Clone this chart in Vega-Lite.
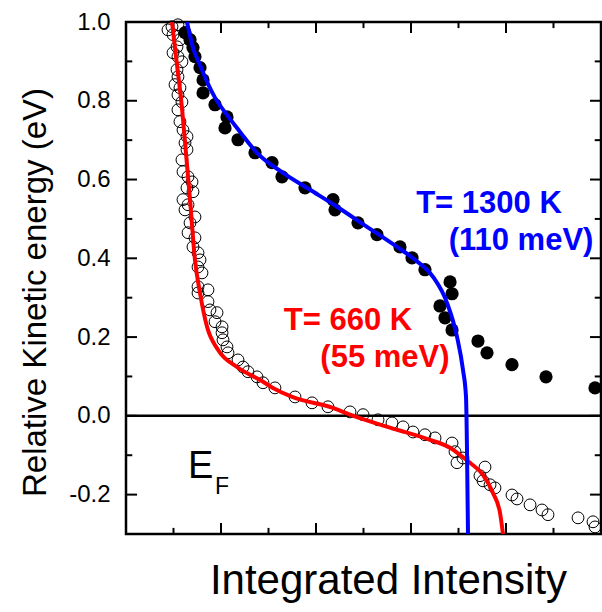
{
  "$schema": "https://vega.github.io/schema/vega-lite/v6.json",
  "width": 475,
  "height": 512,
  "autosize": {"type": "none"},
  "padding": {"left": 126, "top": 22, "right": 1, "bottom": 78},
  "config": {
    "view": {"stroke": "black", "strokeWidth": 2.5},
    "font": "Liberation Sans",
    "axis": {"domain": false, "ticks": false, "grid": false, "labelFont": "Liberation Sans", "titleFont": "Liberation Sans", "titleFontWeight": "normal", "labelColor": "black", "titleColor": "black"}
  },
  "datasets": {
    "zero": [{"y": 0}],
    "ymaj": [{"v": -0.2}, {"v": 0}, {"v": 0.2}, {"v": 0.4}, {"v": 0.6}, {"v": 0.8}],
    "ymin": [{"v": -0.1}, {"v": 0.1}, {"v": 0.3}, {"v": 0.5}, {"v": 0.7}, {"v": 0.9}],
    "xmaj": [{"v": 1}, {"v": 2}, {"v": 3}, {"v": 4}],
    "xmin": [{"v": 0.5}, {"v": 1.5}, {"v": 2.5}, {"v": 3.5}, {"v": 4.5}],
    "open": [
      {"x": 0.442, "y": 0.980}, {"x": 0.484, "y": 0.988}, {"x": 0.547, "y": 0.993}, {"x": 0.495, "y": 0.968}, {"x": 0.568, "y": 0.955},
      {"x": 0.537, "y": 0.937}, {"x": 0.495, "y": 0.922}, {"x": 0.547, "y": 0.912}, {"x": 0.589, "y": 0.899}, {"x": 0.537, "y": 0.879},
      {"x": 0.547, "y": 0.861}, {"x": 0.516, "y": 0.841}, {"x": 0.568, "y": 0.833}, {"x": 0.547, "y": 0.815}, {"x": 0.589, "y": 0.797},
      {"x": 0.547, "y": 0.777}, {"x": 0.568, "y": 0.747}, {"x": 0.600, "y": 0.726}, {"x": 0.642, "y": 0.709}, {"x": 0.621, "y": 0.693},
      {"x": 0.642, "y": 0.676}, {"x": 0.589, "y": 0.650}, {"x": 0.600, "y": 0.620}, {"x": 0.653, "y": 0.607}, {"x": 0.695, "y": 0.594},
      {"x": 0.642, "y": 0.579}, {"x": 0.705, "y": 0.569}, {"x": 0.600, "y": 0.549}, {"x": 0.653, "y": 0.536}, {"x": 0.621, "y": 0.523},
      {"x": 0.726, "y": 0.505}, {"x": 0.674, "y": 0.490}, {"x": 0.653, "y": 0.465}, {"x": 0.726, "y": 0.452}, {"x": 0.705, "y": 0.429},
      {"x": 0.758, "y": 0.414}, {"x": 0.779, "y": 0.396}, {"x": 0.758, "y": 0.378}, {"x": 0.800, "y": 0.363}, {"x": 0.758, "y": 0.328},
      {"x": 0.863, "y": 0.320}, {"x": 0.758, "y": 0.312}, {"x": 0.863, "y": 0.290}, {"x": 0.884, "y": 0.269}, {"x": 0.958, "y": 0.262},
      {"x": 0.937, "y": 0.239}, {"x": 1.011, "y": 0.226}, {"x": 1.011, "y": 0.211}, {"x": 1.021, "y": 0.193}, {"x": 1.063, "y": 0.175},
      {"x": 1.074, "y": 0.160}, {"x": 1.179, "y": 0.142}, {"x": 1.232, "y": 0.124}, {"x": 1.284, "y": 0.112}, {"x": 1.379, "y": 0.099},
      {"x": 1.442, "y": 0.084}, {"x": 1.568, "y": 0.071}, {"x": 1.779, "y": 0.048}, {"x": 1.958, "y": 0.033}, {"x": 2.126, "y": 0.023},
      {"x": 2.358, "y": 0.010}, {"x": 2.495, "y": 0.003}, {"x": 2.653, "y": -0.010}, {"x": 2.800, "y": -0.018}, {"x": 2.916, "y": -0.028},
      {"x": 3.021, "y": -0.041}, {"x": 3.147, "y": -0.048}, {"x": 3.253, "y": -0.056}, {"x": 3.432, "y": -0.069}, {"x": 3.463, "y": -0.091},
      {"x": 3.484, "y": -0.119}, {"x": 3.547, "y": -0.107}, {"x": 3.779, "y": -0.130}, {"x": 3.726, "y": -0.152}, {"x": 3.758, "y": -0.165},
      {"x": 3.832, "y": -0.175}, {"x": 3.884, "y": -0.183}, {"x": 4.063, "y": -0.201}, {"x": 4.116, "y": -0.211}, {"x": 4.253, "y": -0.226},
      {"x": 4.379, "y": -0.239}, {"x": 4.442, "y": -0.251}, {"x": 4.758, "y": -0.259}, {"x": 4.916, "y": -0.269}, {"x": 4.937, "y": -0.282}
    ],
    "filled": [
      {"x": 0.621, "y": 0.973}, {"x": 0.674, "y": 0.955}, {"x": 0.705, "y": 0.935}, {"x": 0.726, "y": 0.912}, {"x": 0.779, "y": 0.884},
      {"x": 0.811, "y": 0.853}, {"x": 0.811, "y": 0.820}, {"x": 0.937, "y": 0.790}, {"x": 1.063, "y": 0.759}, {"x": 1.042, "y": 0.731},
      {"x": 1.179, "y": 0.701}, {"x": 1.358, "y": 0.668}, {"x": 1.537, "y": 0.643}, {"x": 1.642, "y": 0.607}, {"x": 1.884, "y": 0.579},
      {"x": 2.179, "y": 0.549}, {"x": 2.200, "y": 0.523}, {"x": 2.442, "y": 0.490}, {"x": 2.642, "y": 0.460}, {"x": 2.884, "y": 0.429},
      {"x": 3.011, "y": 0.401}, {"x": 3.147, "y": 0.371}, {"x": 3.411, "y": 0.340}, {"x": 3.432, "y": 0.310}, {"x": 3.305, "y": 0.279},
      {"x": 3.358, "y": 0.249}, {"x": 3.432, "y": 0.218}, {"x": 3.705, "y": 0.190}, {"x": 3.800, "y": 0.160}, {"x": 4.063, "y": 0.130},
      {"x": 4.421, "y": 0.099}, {"x": 4.937, "y": 0.071}
    ],
    "red": [
      {"x": 0.484, "y": 1.0}, {"x": 0.537, "y": 0.891}, {"x": 0.589, "y": 0.782}, {"x": 0.621, "y": 0.696}, {"x": 0.674, "y": 0.549},
      {"x": 0.726, "y": 0.396}, {"x": 0.779, "y": 0.312}, {"x": 0.853, "y": 0.226}, {"x": 0.968, "y": 0.168}, {"x": 1.168, "y": 0.124},
      {"x": 1.411, "y": 0.091}, {"x": 1.547, "y": 0.071}, {"x": 1.75, "y": 0.048}, {"x": 2.179, "y": 0.020}, {"x": 2.358, "y": 0.003},
      {"x": 2.779, "y": -0.030}, {"x": 3.2, "y": -0.061}, {"x": 3.411, "y": -0.081}, {"x": 3.516, "y": -0.099}, {"x": 3.621, "y": -0.119},
      {"x": 3.758, "y": -0.150}, {"x": 3.863, "y": -0.196}, {"x": 3.937, "y": -0.246}, {"x": 3.968, "y": -0.3}
    ],
    "blue": [
      {"x": 0.642, "y": 1.0}, {"x": 0.705, "y": 0.935}, {"x": 0.779, "y": 0.891}, {"x": 0.853, "y": 0.848}, {"x": 0.937, "y": 0.808},
      {"x": 1.063, "y": 0.764}, {"x": 1.2, "y": 0.721}, {"x": 1.379, "y": 0.668}, {"x": 1.653, "y": 0.617}, {"x": 1.937, "y": 0.574},
      {"x": 2.221, "y": 0.531}, {"x": 2.537, "y": 0.480}, {"x": 2.853, "y": 0.429}, {"x": 3.021, "y": 0.400}, {"x": 3.232, "y": 0.353},
      {"x": 3.379, "y": 0.287}, {"x": 3.484, "y": 0.201}, {"x": 3.547, "y": 0.117}, {"x": 3.579, "y": 0.048}, {"x": 3.589, "y": -0.079},
      {"x": 3.6, "y": -0.3}
    ],
    "labels": [
      {"x": 3.821, "y": 0.516, "text": "T= 1300 K", "c": "blue"},
      {"x": 4.158, "y": 0.422, "text": "(110 meV)", "c": "blue"},
      {"x": 2.337, "y": 0.218, "text": "T= 660 K", "c": "red"},
      {"x": 2.726, "y": 0.124, "text": "(55 meV)", "c": "red"}
    ],
    "ef": [{"x": 0.653, "y": -0.157, "text": "E"}],
    "efsub": [{"x": 0.937, "y": -0.198, "text": "F"}]
  },
  "resolve": {"axis": {"x": "independent", "y": "independent"}},
  "layer": [
    {
      "data": {"name": "zero"},
      "mark": {"type": "rule", "color": "black", "strokeWidth": 2.5},
      "encoding": {
        "y": {"field": "y", "type": "quantitative", "scale": {"domain": [-0.3, 1.0], "nice": false, "zero": false},
          "axis": {"orient": "left", "title": "Relative Kinetic energy (eV)", "titleFontSize": 33,
            "titleAngle": 270, "titleBaseline": "middle", "titleAlign": "center", "titleX": -91, "titleY": 270,
            "values": [-0.2, 0, 0.2, 0.4, 0.6, 0.8, 1.0],
            "labelExpr": "replace(format(datum.value, '.1f'), '\u2212', '-')",
            "labelFontSize": 24, "labelPadding": 16}}
      }
    },
    {
      "data": {"name": "ymaj"},
      "layer": [
        {"mark": {"type": "rule", "color": "black", "strokeWidth": 2},
         "encoding": {"y": {"field": "v", "type": "quantitative", "axis": null}, "x": {"datum": 0, "type": "quantitative", "axis": null}, "x2": {"datum": 0.116}}},
        {"mark": {"type": "rule", "color": "black", "strokeWidth": 2},
         "encoding": {"y": {"field": "v", "type": "quantitative", "axis": null}, "x": {"datum": 5, "type": "quantitative", "axis": null}, "x2": {"datum": 4.884}}}
      ]
    },
    {
      "data": {"name": "ymin"},
      "layer": [
        {"mark": {"type": "rule", "color": "black", "strokeWidth": 2},
         "encoding": {"y": {"field": "v", "type": "quantitative", "axis": null}, "x": {"datum": 0, "type": "quantitative", "axis": null}, "x2": {"datum": 0.066}}},
        {"mark": {"type": "rule", "color": "black", "strokeWidth": 2},
         "encoding": {"y": {"field": "v", "type": "quantitative", "axis": null}, "x": {"datum": 5, "type": "quantitative", "axis": null}, "x2": {"datum": 4.934}}}
      ]
    },
    {
      "data": {"name": "xmaj"},
      "layer": [
        {"mark": {"type": "rule", "color": "black", "strokeWidth": 2},
         "encoding": {"x": {"field": "v", "type": "quantitative", "axis": null}, "y": {"datum": -0.3, "type": "quantitative", "axis": null}, "y2": {"datum": -0.272}}},
        {"mark": {"type": "rule", "color": "black", "strokeWidth": 2},
         "encoding": {"x": {"field": "v", "type": "quantitative", "axis": null}, "y": {"datum": 1.0, "type": "quantitative", "axis": null}, "y2": {"datum": 0.972}}}
      ]
    },
    {
      "data": {"name": "xmin"},
      "layer": [
        {"mark": {"type": "rule", "color": "black", "strokeWidth": 2},
         "encoding": {"x": {"field": "v", "type": "quantitative", "axis": null}, "y": {"datum": -0.3, "type": "quantitative", "axis": null}, "y2": {"datum": -0.2845}}},
        {"mark": {"type": "rule", "color": "black", "strokeWidth": 2},
         "encoding": {"x": {"field": "v", "type": "quantitative", "axis": null}, "y": {"datum": 1.0, "type": "quantitative", "axis": null}, "y2": {"datum": 0.9845}}}
      ]
    },
    {
      "data": {"name": "open"},
      "mark": {"type": "point", "shape": "circle", "filled": false, "stroke": "black", "strokeWidth": 1, "size": 140, "opacity": 1},
      "encoding": {
        "x": {"field": "x", "type": "quantitative", "scale": {"domain": [0, 5], "nice": false, "zero": false},
          "axis": {"orient": "bottom", "title": "Integrated Intensity", "titleFontSize": 42, "titlePadding": 26, "titleX": 262, "labels": false, "values": [1, 2, 3, 4]}},
        "y": {"field": "y", "type": "quantitative", "axis": null}
      }
    },
    {
      "data": {"name": "filled"},
      "mark": {"type": "point", "shape": "circle", "filled": true, "fill": "black", "size": 175, "opacity": 1},
      "encoding": {
        "x": {"field": "x", "type": "quantitative", "axis": null},
        "y": {"field": "y", "type": "quantitative", "axis": null}
      }
    },
    {
      "data": {"name": "red"},
      "mark": {"type": "line", "color": "#ff0000", "strokeWidth": 4, "interpolate": "monotone", "clip": true},
      "encoding": {
        "x": {"field": "x", "type": "quantitative", "axis": null},
        "y": {"field": "y", "type": "quantitative", "axis": null},
        "order": {"field": "y", "sort": "descending"}
      }
    },
    {
      "data": {"name": "blue"},
      "mark": {"type": "line", "color": "#0000ff", "strokeWidth": 4, "interpolate": "monotone", "clip": true},
      "encoding": {
        "x": {"field": "x", "type": "quantitative", "axis": null},
        "y": {"field": "y", "type": "quantitative", "axis": null},
        "order": {"field": "y", "sort": "descending"}
      }
    },
    {
      "data": {"name": "labels"},
      "mark": {"type": "text", "fontSize": 31, "fontWeight": "bold", "align": "center", "baseline": "alphabetic"},
      "encoding": {
        "x": {"field": "x", "type": "quantitative", "axis": null},
        "y": {"field": "y", "type": "quantitative", "axis": null},
        "text": {"field": "text"},
        "color": {"field": "c", "type": "nominal", "scale": {"domain": ["blue", "red"], "range": ["#0000ff", "#ff0000"]}, "legend": null}
      }
    },
    {
      "data": {"name": "ef"},
      "mark": {"type": "text", "fontSize": 38, "align": "left", "baseline": "alphabetic", "color": "black"},
      "encoding": {
        "x": {"field": "x", "type": "quantitative", "axis": null},
        "y": {"field": "y", "type": "quantitative", "axis": null},
        "text": {"field": "text"}
      }
    },
    {
      "data": {"name": "efsub"},
      "mark": {"type": "text", "fontSize": 23, "align": "left", "baseline": "alphabetic", "color": "black"},
      "encoding": {
        "x": {"field": "x", "type": "quantitative", "axis": null},
        "y": {"field": "y", "type": "quantitative", "axis": null},
        "text": {"field": "text"}
      }
    }
  ]
}
